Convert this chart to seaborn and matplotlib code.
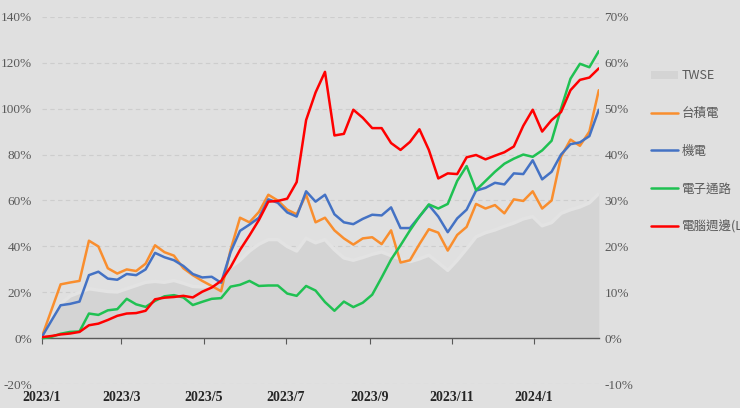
import matplotlib
matplotlib.use("Agg")
import pandas as pd
import matplotlib.pyplot as plt
import matplotlib.dates as mdates
from matplotlib.ticker import MultipleLocator, FuncFormatter
import seaborn as sns

# weekly dates (Fridays) Jan 2023 -> Feb 2024
dates = pd.date_range("2023-01-06", periods=60, freq="7D")

# cumulative returns, % (left axis)
tsmc = [0.5, 12, 23.5, 24.3, 25, 42.5, 40, 30.5, 28.2, 30, 29.3, 32.5, 40.5, 37.5, 36,
        30.5, 27.5, 25, 22.8, 20.5, 38.5, 52.5, 50.5, 55, 62.5, 60, 56, 54, 62.5, 50.5,
        52.5, 47, 43.5, 40.8, 43.5, 44, 41, 47, 33, 34, 41, 47.5, 46, 38.2, 45,
        48.5, 58.5, 56.5, 58, 54.4, 60.5, 59.8, 64, 56.5, 60, 79, 86.5, 83.8, 90, 108]
elec_mach = [0.5, 7.5, 14.4, 15, 16, 27.5, 29, 26, 25.5, 28, 27.5, 30, 37.2, 35.3, 34,
             31.5, 28, 26.5, 26.8, 24.2, 37.5, 46.8, 49.5, 52.5, 60.5, 59, 54.8, 53, 64, 59.5,
             62.5, 54, 50.5, 49.7, 52, 53.8, 53.5, 57, 48, 48, 53, 58, 53, 46.2, 52.2,
             56, 64.3, 65.5, 67.7, 67, 71.8, 71.5, 77.5, 69.2, 72.5, 80, 84.5, 85.3, 88, 99.5]
elec_dist = [0, 0.6, 2, 2.8, 3, 10.8, 10.2, 12.2, 12.7, 17.2, 14.8, 13.7, 16.3, 18.3, 18.8,
             17.8, 14.5, 15.9, 17.2, 17.5, 22.5, 23.3, 25, 22.8, 23, 23, 19.5, 18.5, 22.8, 20.8,
             15.8, 12, 16, 13.6, 15.5, 19, 26.5, 34.3, 40.5, 47, 53, 58.3, 56.5, 58.5, 68.5,
             75, 64.5, 68.5, 72.5, 76, 78.2, 80, 79, 81.8, 86, 100, 113, 119.5, 118, 125]
computer = [0.5, 1, 1.7, 2.1, 2.8, 5.7, 6.4, 8, 9.8, 10.8, 11, 12, 17, 17.7, 18,
            18.5, 17.8, 20.3, 22.1, 25, 31, 38.5, 44.8, 51.5, 59.5, 59.8, 60.8, 68, 95, 107,
            116, 88.3, 89, 99.5, 96, 91.5, 91.5, 85, 82, 85.5, 91, 82, 69.6, 71.8, 71.5,
            78.8, 79.8, 77.9, 79.5, 81, 83.5, 92.5, 99.5, 90, 95, 98.5, 108, 112.5, 113.5, 117.5]
# TWSE, % (right axis)
twse = [0, 4.5, 7.5, 9.2, 10, 10.8, 10.5, 10.2, 10.1, 10.8, 11.5, 12.2, 12.4, 12.2, 12.6,
        12, 11.3, 11.2, 11.6, 13, 15.5, 17, 19, 20.5, 21.5, 21.5, 20, 19, 21.8, 20.8,
        21.5, 19.3, 17.5, 17, 17.6, 18.3, 18.8, 18, 17.3, 16.7, 17.3, 18.1, 16.5, 14.8, 17,
        19.5, 22.1, 23, 23.6, 24.4, 25.1, 26, 26.5, 24.5, 25.2, 27.2, 28, 28.6, 29.5, 31.5]

names = ["台積電", "機電", "電子通路", "電腦週邊(L)"]
colors = ["#f98e2e", "#4472c4", "#1fc152", "#ff0000"]

df = pd.DataFrame({"date": dates, names[0]: tsmc, names[1]: elec_mach,
                   names[2]: elec_dist, names[3]: computer})
long_df = df.melt(id_vars="date", var_name="series", value_name="value")

sns.set_style("white")
plt.rcParams["font.family"] = ["Noto Sans CJK TC", "DejaVu Sans"]

bg = "#e0e0e0"
fig = plt.figure(figsize=(7.4, 4.08), dpi=100, facecolor=bg)
ax = fig.add_axes([0.0564, 0.0581, 0.7528, 0.901])
ax2 = ax.twinx()
ax.set_zorder(ax2.get_zorder() + 1)
ax.patch.set_visible(False)
ax2.patch.set_visible(False)

# TWSE area on the right axis
area = ax2.fill_between(dates, 0, twse, color="#d4d4d4", lw=0, zorder=2)
ax2.plot(dates, twse, color="#e3e3e3", lw=2.5, zorder=2.5, solid_capstyle="butt")
ax2.set_ylim(-10, 70)
ax2.yaxis.set_major_locator(MultipleLocator(10))
ax2.yaxis.set_major_formatter(FuncFormatter(lambda v, p: f"{v:.0f}%"))
ax2.yaxis.grid(True, color="#cdcdcd", linestyle=(0, (4, 3)), linewidth=0.8, zorder=0)
ax2.set_axisbelow(True)

sns.lineplot(data=long_df, x="date", y="value", hue="series", hue_order=names,
             palette=colors, linewidth=1.8, ax=ax, legend=False)
ax.set_ylim(-20, 140)
ax.set_xlim(dates[0], dates[-1])
ax.yaxis.set_major_locator(MultipleLocator(20))
ax.yaxis.set_major_formatter(FuncFormatter(lambda v, p: f"{v:.0f}%"))
ax.set_xlabel("")
ax.set_ylabel("")


def month_fmt(v, p):
    d = mdates.num2date(v)
    return f"{d.year}/{d.month}"


ax.xaxis.set_major_locator(mdates.MonthLocator(bymonth=[1, 3, 5, 7, 9, 11], bymonthday=6))
ax.xaxis.set_major_formatter(FuncFormatter(month_fmt))

for a in (ax, ax2):
    for s in a.spines.values():
        s.set_visible(False)

ax.tick_params(axis="y", length=0, pad=7, labelsize=9.5, labelcolor="#595959",
               labelfontfamily="Liberation Serif")
ax2.tick_params(axis="y", length=0, pad=4, labelsize=9.5, labelcolor="#595959",
                labelfontfamily="Liberation Serif")
ax.tick_params(axis="x", length=0, pad=5, labelsize=10, labelcolor="#262626",
               labelfontfamily="Liberation Serif")
for lab in ax.get_xticklabels():
    lab.set_fontweight("bold")

# category axis line at 0 with tick marks
sec = ax.secondary_xaxis(20 / 160)
sec.xaxis.set_major_locator(mdates.MonthLocator(bymonth=[1, 3, 5, 7, 9, 11], bymonthday=6))
sec.tick_params(axis="x", length=4, color="#595959", labelbottom=False, direction="out")
sec.spines["bottom"].set_color("#595959")
sec.spines["bottom"].set_linewidth(1.0)

handles = [area] + list(ax.get_lines()[:4])
fig.legend(handles=handles, labels=["TWSE"] + names, loc="upper left",
           bbox_to_anchor=(640 / 740, 1 - 58 / 408), frameon=False,
           handlelength=2.1, handleheight=0.65, handletextpad=0.3,
           labelspacing=1.98, fontsize=9, labelcolor="#595959")

fig.savefig("out.png", dpi=100, facecolor=bg)
